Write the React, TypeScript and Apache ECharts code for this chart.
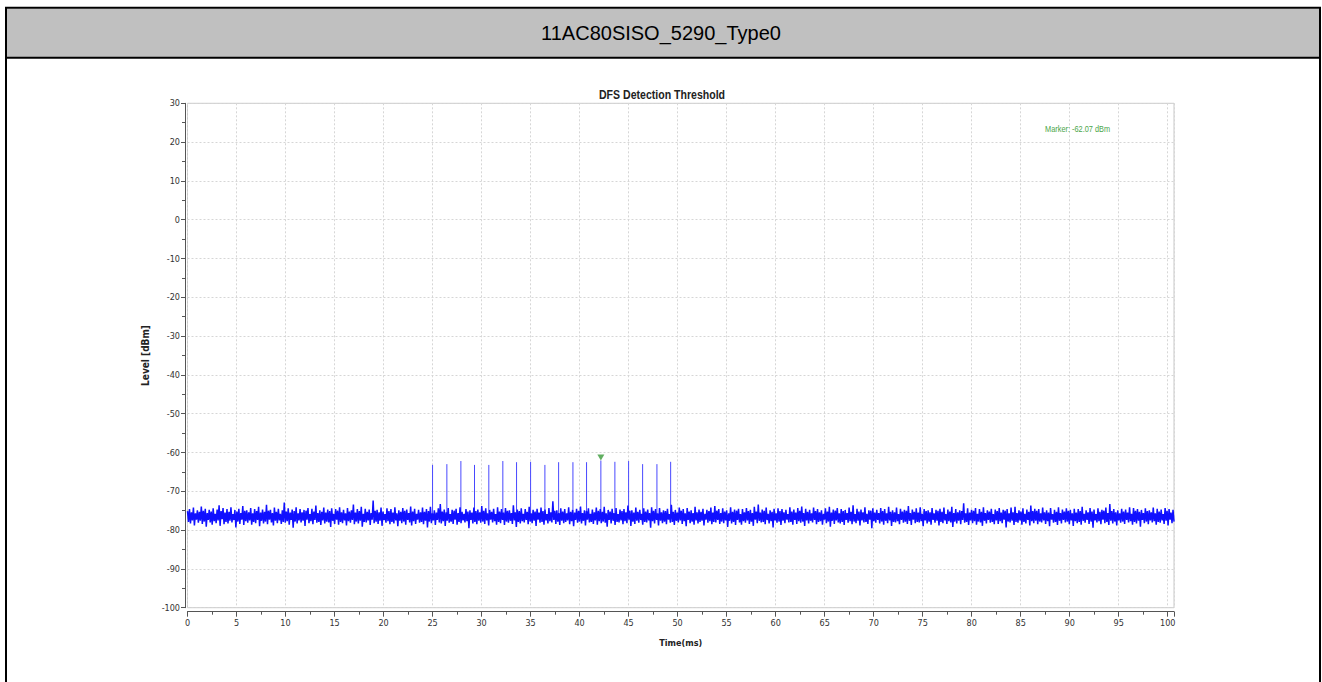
import React, { useEffect, useRef } from "react";
import * as echarts from "echarts";

const HEADER_TITLE = "11AC80SISO_5290_Type0";
const CHART_TITLE = "DFS Detection Threshold";
const MARKER_LABEL = "Marker: -62.07 dBm";
const X_NAME = "Time(ms)";
const Y_NAME = "Level [dBm]";

const X_MIN = 0;
const X_MAX = 100.64;
const Y_MIN = -100;
const Y_MAX = 30;

// noise floor trace (dBm): successive high / low readings, evenly spaced in time across the capture
const noise: number[] = [
  -75.1,-77.9,-74.6,-78.3,-75.4,-77.5,-74.2,-78.8,-75.7,-77.3,-74.9,-78.1,-75.3,-77.6,-73.9,-78.4,-75.0,-77.8,-74.5,-79.1,
  -75.6,-77.4,-74.8,-78.0,-75.2,-78.6,-74.4,-77.7,-75.8,-78.2,-74.7,-77.5,-73.6,-78.9,-75.1,-77.2,-74.3,-78.5,-75.5,-77.9,
  -74.6,-78.3,-75.3,-77.6,-74.1,-78.0,-75.9,-77.4,-74.8,-79.3,-75.2,-77.8,-74.5,-78.4,-75.6,-77.3,-73.8,-78.7,-75.0,-77.7,
  -74.9,-78.1,-75.4,-77.5,-74.3,-78.6,-75.7,-77.9,-74.6,-78.2,-75.1,-77.4,-74.0,-79.0,-75.5,-77.6,-74.7,-78.3,-75.3,-77.8,
  -73.5,-78.5,-75.0,-77.3,-74.8,-78.0,-75.6,-78.8,-74.2,-77.6,-75.3,-78.2,-74.5,-77.5,-75.8,-78.4,-74.9,-77.9,-72.9,-78.1,
  -75.2,-77.7,-74.4,-78.6,-75.5,-77.4,-74.7,-79.4,-75.1,-77.8,-74.1,-78.3,-75.7,-77.5,-74.6,-78.0,-75.4,-77.6,-74.8,-78.9,
  -75.0,-77.3,-74.3,-78.2,-75.9,-77.7,-74.5,-78.5,-75.2,-77.4,-73.7,-78.1,-75.6,-77.9,-74.9,-78.7,-75.3,-77.5,-74.2,-78.3,
  -75.5,-77.8,-74.7,-78.0,-75.1,-79.2,-74.4,-77.6,-75.8,-78.4,-74.6,-77.3,-75.0,-78.6,-74.1,-77.9,-75.4,-78.2,-74.8,-77.5,
  -75.7,-78.8,-74.3,-77.7,-75.2,-78.1,-74.9,-77.4,-73.4,-78.5,-75.5,-77.8,-74.6,-78.3,-75.1,-77.6,-74.0,-79.1,-75.8,-77.9,
  -74.5,-78.0,-75.3,-77.5,-74.7,-78.7,-75.6,-77.3,-72.4,-78.2,-75.0,-77.8,-74.8,-78.4,-75.4,-77.6,-74.2,-78.9,-75.2,-77.4,
  -75.9,-78.1,-74.4,-77.7,-75.1,-78.5,-74.6,-77.9,-75.5,-78.3,-74.1,-77.5,-75.7,-79.0,-74.9,-77.6,-75.3,-78.2,-74.3,-77.8,
  -75.0,-78.6,-74.7,-77.4,-75.6,-78.0,-73.9,-78.8,-75.2,-77.7,-74.5,-78.4,-75.8,-77.3,-74.8,-78.1,-75.4,-77.9,-74.2,-78.5,
  -75.3,-77.6,-74.6,-79.3,-75.1,-77.8,-74.0,-78.2,-75.7,-77.5,-74.9,-78.7,-75.5,-77.4,-74.4,-78.0,-73.3,-78.3,-75.2,-77.7,
  -74.7,-78.9,-75.4,-77.6,-74.3,-78.1,-75.9,-77.8,-74.8,-78.4,-75.0,-77.3,-74.5,-78.6,-75.6,-77.9,-74.1,-78.2,-75.3,-77.5,
  -75.8,-78.0,-74.6,-77.7,-75.2,-79.5,-74.9,-77.4,-75.5,-78.3,-74.2,-77.9,-75.1,-78.5,-74.7,-77.6,-75.4,-78.1,-73.8,-77.8,
  -75.0,-78.4,-74.4,-77.5,-75.7,-78.8,-74.8,-77.3,-75.3,-78.0,-74.5,-77.7,-75.9,-78.6,-74.1,-77.9,-75.2,-78.2,-74.6,-77.4,
  -75.5,-78.7,-74.3,-77.8,-75.0,-78.1,-74.9,-77.6,-75.6,-78.4,-73.6,-77.5,-75.4,-79.2,-74.7,-77.9,-75.1,-78.3,-74.4,-77.7,
  -75.8,-78.0,-74.6,-77.4,-75.3,-78.5,-74.0,-77.8,-75.7,-78.2,-74.8,-77.6,-75.2,-78.9,-74.5,-77.3,-75.5,-78.1,-74.2,-77.9,
  -75.1,-78.6,-74.7,-77.5,-75.9,-78.3,-74.3,-77.7,-75.4,-78.0,-72.6,-77.4,-75.0,-78.4,-74.9,-77.8,-75.6,-78.7,-74.4,-77.6,
  -75.2,-78.2,-74.6,-77.9,-75.7,-77.5,-74.1,-78.5,-75.3,-77.7,-74.8,-79.0,-75.5,-77.4,-74.5,-78.1,-75.0,-77.8,-73.9,-78.3,
  -75.6,-77.6,-74.9,-78.8,-75.1,-77.3,-74.4,-78.0,-75.8,-77.9,-74.7,-78.4,-75.4,-77.5,-74.2,-78.6,-75.0,-77.7,-74.6,-78.2,
  -75.3,-77.8,-74.0,-78.1,-75.7,-79.1,-74.8,-77.4,-75.2,-78.3,-74.5,-77.6,-75.6,-78.7,-74.3,-77.9,-75.9,-78.0,-74.7,-77.5,
  -75.1,-78.5,-74.6,-77.7,-75.4,-78.2,-73.7,-77.3,-75.0,-78.9,-74.9,-77.8,-75.5,-78.4,-74.2,-77.6,-75.3,-78.1,-74.8,-77.4,
  -75.8,-78.6,-74.4,-77.9,-75.2,-78.0,-74.7,-77.5,-75.6,-79.4,-74.1,-77.7,-75.0,-78.3,-74.6,-77.4,-75.7,-78.8,-74.3,-77.6,
  -75.4,-78.2,-74.9,-77.8,-75.1,-78.5,-74.5,-77.3,-75.9,-78.1,-73.5,-77.9,-75.3,-78.7,-74.8,-77.6,-75.5,-78.0,-74.2,-77.5,
  -75.0,-78.4,-74.6,-77.7,-75.7,-79.0,-74.3,-77.4,-75.2,-78.2,-74.9,-77.8,-75.6,-78.6,-74.0,-77.5,-75.4,-78.3,-74.7,-77.9,
  -75.3,-77.6,-74.5,-78.8,-75.8,-77.3,-74.8,-78.1,-75.1,-77.7,-74.2,-78.5,-75.5,-77.9,-73.8,-78.0,-75.0,-77.4,-74.6,-78.4,
  -75.6,-77.8,-74.4,-78.2,-75.2,-77.5,-74.9,-79.2,-75.7,-77.6,-74.1,-78.3,-75.3,-77.9,-74.7,-78.7,-75.0,-77.4,-74.5,-78.0,
  -75.9,-78.6,-74.6,-77.7,-75.4,-78.1,-74.3,-77.5,-75.1,-78.4,-74.8,-77.8,-75.6,-78.9,-74.0,-77.3,-75.2,-78.2,-73.4,-77.6,
  -75.5,-78.0,-74.7,-77.9,-75.0,-78.5,-74.2,-77.4,-75.8,-78.3,-74.9,-77.7,-75.3,-79.3,-74.5,-77.5,-75.7,-78.1,-74.4,-77.8,
  -75.1,-78.7,-74.6,-77.6,-75.4,-78.2,-74.8,-77.3,-75.9,-78.0,-74.1,-77.9,-75.2,-78.6,-74.7,-77.4,-75.5,-78.4,-74.3,-77.7,
  -75.0,-78.1,-73.9,-77.8,-75.6,-78.9,-74.5,-77.5,-75.3,-78.3,-74.8,-77.6,-75.7,-78.0,-74.2,-77.4,-75.1,-78.5,-74.6,-77.9,
  -75.4,-77.7,-74.9,-78.6,-75.8,-77.3,-74.4,-78.2,-75.2,-77.8,-74.0,-79.1,-75.5,-77.6,-74.7,-78.4,-75.0,-77.5,-74.3,-78.0,
  -75.7,-78.3,-74.6,-77.9,-75.1,-78.7,-74.8,-77.4,-75.6,-78.1,-74.2,-77.7,-75.3,-78.5,-73.6,-77.8,-75.9,-78.2,-74.5,-77.6,
  -75.2,-78.8,-74.7,-77.5,-75.4,-78.0,-74.1,-77.9,-75.8,-78.4,-74.9,-77.3,-75.0,-79.5,-74.4,-77.7,-75.5,-78.1,-74.8,-77.4,
  -75.6,-78.3,-74.3,-77.8,-75.1,-78.6,-74.6,-77.6,-75.7,-78.2,-74.0,-77.5,-75.3,-78.9,-74.9,-77.9,-75.4,-78.0,-74.2,-77.7,
  -75.9,-78.5,-74.5,-77.4,-75.2,-78.1,-74.8,-77.8,-75.0,-78.4,-73.8,-77.6,-75.6,-78.7,-74.7,-77.3,-75.3,-78.2,-74.4,-77.9,
  -75.5,-78.0,-74.1,-77.7,-75.8,-79.0,-74.6,-77.5,-75.1,-78.3,-74.9,-77.8,-75.4,-78.6,-74.3,-77.4,-75.7,-78.1,-74.8,-77.6,
  -75.0,-78.8,-74.5,-77.9,-75.3,-78.2,-74.2,-77.5,-75.9,-78.4,-74.7,-77.7,-75.2,-78.0,-74.0,-79.2,-75.6,-77.8,-74.6,-78.3,
  -75.4,-77.6,-74.9,-78.5,-75.1,-77.4,-73.1,-78.1,-75.7,-77.9,-74.4,-78.7,-75.5,-77.5,-74.8,-78.2,-75.0,-77.7,-74.3,-78.6,
  -75.8,-77.8,-74.6,-78.0,-75.3,-78.9,-74.1,-77.6,-75.6,-78.3,-74.9,-77.4,-75.2,-78.1,-74.5,-77.9,-75.9,-78.5,-74.7,-77.5,
  -75.1,-78.4,-74.3,-77.7,-75.5,-78.2,-74.8,-77.3,-75.0,-79.3,-74.6,-77.8,-75.7,-78.0,-74.2,-77.6,-75.4,-78.7,-74.0,-77.9,
  -75.6,-78.1,-74.9,-77.5,-75.2,-78.6,-74.4,-77.9,-75.8,-78.3,-74.7,-77.4,-75.3,-78.8,-73.7,-77.7,-75.1,-78.2,-74.5,-77.6,
  -75.0,-78.5,-74.6,-77.8,-75.7,-78.0,-74.2,-77.5,-75.4,-78.4,-74.9,-77.7,-75.5,-79.0,-74.3,-77.3,-75.9,-78.1,-74.8,-77.9,
  -75.3,-78.7,-74.1,-77.6,-75.6,-78.3,-74.7,-77.4,-75.2,-78.0,-74.4,-77.8,-75.0,-78.5,-74.8,-77.5,-75.7,-78.9,-74.5,-77.7,
  -75.5,-78.2,-74.6,-77.9,-75.1,-78.6,-74.0,-77.6,-75.8,-78.1,-74.9,-77.4,-75.4,-78.4,-74.3,-77.8,-75.2,-79.4,-74.7,-77.5,
  -75.9,-78.0,-74.4,-77.7,-75.3,-78.5,-74.8,-77.3,-75.0,-78.2,-74.2,-77.9,-75.6,-78.7,-73.3,-77.6,-75.1,-78.3,-74.6,-77.8,
  -75.4,-78.8,-74.9,-77.5,-75.7,-78.1,-74.5,-77.8,-75.2,-78.4,-74.7,-77.4,-75.5,-78.0,-74.1,-77.7,-75.8,-78.6,-74.3,-77.9,
  -75.0,-78.3,-74.6,-77.6,-75.3,-79.1,-74.8,-77.4,-75.6,-78.2,-74.4,-77.8,-75.1,-78.5,-74.9,-77.5,-75.4,-78.0,-74.2,-77.7,
  -75.7,-78.6,-74.5,-77.9,-75.2,-78.1,-74.7,-77.5,-75.9,-78.4,-74.3,-77.6,-75.0,-78.8,-74.6,-77.3,-75.5,-78.2,-74.8,-77.8,
];

// radar pulse times (ms), pulse foot level and peak levels (dBm)
const pulseTimes: number[] = [
  25.0, 26.46, 27.89, 29.28, 30.74, 32.17, 33.57, 35.0, 36.46,
  37.86, 39.32, 40.71, 42.17, 43.6, 45.0, 46.43, 47.89, 49.29,
];
const pulsePeaks: number[] = [
  -63.2, -63.0, -62.2, -63.2, -63.2, -62.2, -62.5, -62.4, -63.2,
  -62.5, -62.5, -62.5, -62.07, -62.4, -62.2, -63.0, -63.0, -62.4,
];
const pulseFoot = -76.5;

const markerTime = 42.17;
const markerLevel = -62.07;

const NARROW = "'Liberation Sans Narrow', 'Arial Narrow', 'DejaVu Sans Condensed', sans-serif";
const SANS = "'Liberation Sans', Arial, sans-serif";

export default function App() {
  const ref = useRef<HTMLDivElement>(null);

  useEffect(() => {
    if (!ref.current) return;
    const chart = echarts.init(ref.current, undefined, { renderer: "svg" });

    const step = (X_MAX - X_MIN) / (noise.length - 1);
    const trace: [number, number][] = noise.map((v, i) => [X_MIN + i * step, v]);
    const pulses = pulseTimes.map((t, i) => [t, pulseFoot, pulsePeaks[i]]);

    const isMajor = (v: number) => Math.abs(v / 5 - Math.round(v / 5)) < 1e-6;

    chart.setOption({
      animation: false,
      backgroundColor: "#ffffff",
      grid: {
        left: 187.5,
        top: 103.3,
        right: 148,
        bottom: 74.3,
        show: true,
        borderColor: "#c8c8c8",
        borderWidth: 1,
        backgroundColor: "transparent",
      },
      xAxis: {
        type: "value",
        min: X_MIN,
        max: X_MAX,
        interval: 5,
        offset: 4,
        axisLine: { show: true, onZero: false, lineStyle: { color: "#555", width: 1 } },
        axisTick: { show: true, length: 5, lineStyle: { color: "#555" } },
        minorTick: { show: true, splitNumber: 2, length: 3, lineStyle: { color: "#555" } },
        axisLabel: {
          formatter: (v: number) => (isMajor(v) ? String(Math.round(v)) : ""),
          fontFamily: NARROW,
          fontSize: 9,
          color: "#333",
          margin: 7,
        },
        splitLine: { show: true, lineStyle: { color: "#d6d6d6", type: [2, 2] } },
        name: X_NAME,
        nameLocation: "middle",
        nameGap: 27,
        nameTextStyle: { fontWeight: "bold", fontFamily: NARROW, fontSize: 9, color: "#222" },
      },
      yAxis: {
        type: "value",
        min: Y_MIN,
        max: Y_MAX,
        interval: 10,
        offset: 2.5,
        axisLine: { show: true, onZero: false, lineStyle: { color: "#555", width: 1 } },
        axisTick: { show: true, length: 4, lineStyle: { color: "#555" } },
        minorTick: { show: true, splitNumber: 2, length: 3, lineStyle: { color: "#555" } },
        axisLabel: { fontFamily: NARROW, fontSize: 9, color: "#333", margin: 5 },
        splitLine: { show: true, lineStyle: { color: "#d6d6d6", type: [2, 2] } },
        name: Y_NAME,
        nameLocation: "middle",
        nameGap: 29,
        nameRotate: 90,
        nameTextStyle: { fontWeight: "bold", fontFamily: NARROW, fontSize: 10, color: "#222" },
      },
      series: [
        {
          type: "custom",
          data: pulses,
          encode: { x: 0, y: [1, 2] },
          renderItem: (_params: any, api: any) => {
            const p0 = api.coord([api.value(0), api.value(1)]);
            const p1 = api.coord([api.value(0), api.value(2)]);
            return {
              type: "line",
              shape: { x1: p0[0], y1: p0[1], x2: p1[0], y2: p1[1] },
              style: { stroke: "#4848ff", lineWidth: 1 },
            };
          },
          z: 2,
        },
        {
          type: "line",
          data: trace,
          showSymbol: false,
          symbol: "none",
          lineStyle: { color: "#1010ff", width: 1.5, join: "bevel" },
          z: 3,
        },
        {
          type: "scatter",
          data: [[markerTime, markerLevel]],
          symbol: "triangle",
          symbolRotate: 180,
          symbolSize: [7, 6],
          symbolOffset: [0, -3],
          itemStyle: { color: "#3a9a3a" },
          z: 4,
        },
      ],
      graphic: [
        {
          type: "rect",
          shape: { x: 7, y: 8.7, width: 1312, height: 48.5 },
          style: { fill: "#c0c0c0" },
          z: 0,
        },
        {
          type: "rect",
          shape: { x: 6, y: 7.7, width: 1314, height: 700 },
          style: { fill: "none", stroke: "#000", lineWidth: 2 },
          z: 1,
        },
        {
          type: "line",
          shape: { x1: 6, y1: 57.7, x2: 1320, y2: 57.7 },
          style: { stroke: "#000", lineWidth: 2 },
          z: 1,
        },
        {
          type: "text",
          x: 661,
          y: 33,
          style: {
            text: HEADER_TITLE,
            fill: "#000",
            font: `20px ${SANS}`,
            textAlign: "center",
            textVerticalAlign: "middle",
          },
          z: 2,
        },
        {
          type: "text",
          x: 662,
          y: 95,
          scaleX: 0.88,
          style: {
            text: CHART_TITLE,
            fill: "#222",
            font: `bold 12px ${SANS}`,
            textAlign: "center",
            textVerticalAlign: "middle",
          },
          z: 2,
        },
        {
          type: "text",
          x: 1045,
          y: 129,
          scaleX: 0.82,
          style: {
            text: MARKER_LABEL,
            fill: "#4aa54a",
            font: `9px ${SANS}`,
            textAlign: "left",
            textVerticalAlign: "middle",
          },
          z: 2,
        },
      ],
    });

    return () => chart.dispose();
  }, []);

  return (
    <div
      ref={ref}
      style={{ position: "fixed", left: 0, top: 0, width: 1322, height: 682, background: "#fff" }}
    />
  );
}
